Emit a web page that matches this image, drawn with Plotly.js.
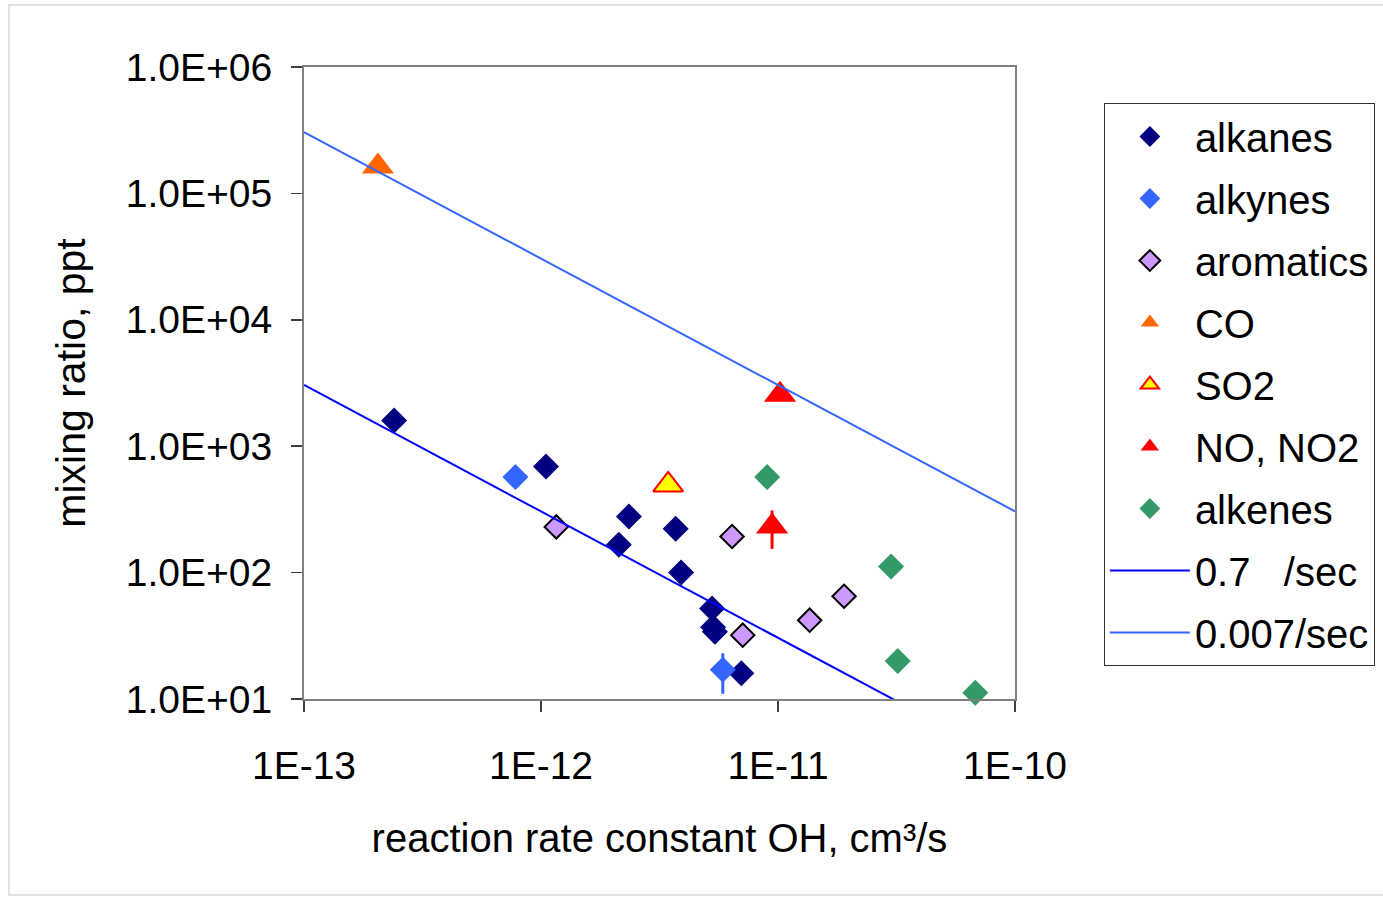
<!DOCTYPE html>
<html>
<head>
<meta charset="utf-8">
<script src="https://cdn.plot.ly/plotly-3.0.1.min.js"></script>
<style>
  html, body { margin: 0; padding: 0; background: #fff; }
  #chart { width: 1383px; height: 898px; }
</style>
</head>
<body>
<div id="chart"></div>
<script>
// ---- data (k_OH in cm3/s, mixing ratio in ppt) ----
var alkanesX = [2.4e-13, 1.05e-12, 2.35e-12, 2.13e-12, 3.7e-12, 3.9e-12, 5.27e-12, 5.32e-12, 5.42e-12, 7.0e-12];
var alkanesY = [1600, 690, 278, 166, 222, 100, 52, 37, 34, 16];

var alkynesX = [7.8e-13, 5.85e-12];
var alkynesY = [570, 17];
var alkynesErr = [0, 6];

var aromaticsX = [1.16e-12, 6.4e-12, 7.1e-12, 1.36e-11, 1.9e-11];
var aromaticsY = [230, 193, 32, 42, 65];

var coX = [2.05e-13];
var coY = [1.63e5];

var so2X = [3.44e-12];
var so2Y = [494];

var noxX = [1.02e-11, 9.44e-12];
var noxY = [2550, 232];
var noxErr = [0, 78];

var alkenesX = [9.0e-12, 3.0e-11, 3.2e-11, 6.8e-11];
var alkenesY = [570, 112, 20, 11.2];

var lineX = [1e-13, 1e-10];
var line07Y = [3050, 3.05];      // 0.7 /sec
var line0007Y = [3.05e5, 305];   // 0.007/sec

var xTickVals = [1e-13, 1e-12, 1e-11, 1e-10];
var xTickText = ['1E-13', '1E-12', '1E-11', '1E-10'];
var yTickVals = [1e1, 1e2, 1e3, 1e4, 1e5, 1e6];
var yTickText = ['1.0E+01', '1.0E+02', '1.0E+03', '1.0E+04', '1.0E+05', '1.0E+06'];

var seriesNames = ['alkanes', 'alkynes', 'aromatics', 'CO', 'SO2', 'NO, NO2', 'alkenes',
                   '0.7\u00a0\u00a0\u00a0/sec', '0.007/sec'];

// ---- styling ----
var FONT = 'Liberation Sans, Arial, sans-serif';
var diamondSize = 20;
var triSize = 28;

function sc(i, x, y, marker, extra) {
  var t = {
    type: 'scatter', mode: 'markers', name: seriesNames[i], x: x, y: y,
    marker: marker, legendgroup: 'g' + i, cliponaxis: false
  };
  if (extra) for (var k in extra) t[k] = extra[k];
  return t;
}

var traces = [
  sc(0, alkanesX, alkanesY, {symbol: 'diamond', size: diamondSize, color: '#000080', line: {width: 0}}),
  sc(1, alkynesX, alkynesY, {symbol: 'diamond', size: diamondSize, color: '#3366FF', line: {width: 0}},
     {error_y: {type: 'data', array: alkynesErr, visible: true, color: '#3366FF', thickness: 3, width: 0}}),
  sc(2, aromaticsX, aromaticsY, {symbol: 'diamond', size: diamondSize - 2, color: '#CC99FF', line: {width: 2, color: '#000000'}}),
  sc(3, coX, coY, {symbol: 'triangle-up', size: triSize, color: '#FF6600', line: {width: 0}}),
  sc(4, so2X, so2Y, {symbol: 'triangle-up', size: triSize - 2, color: '#FFFF00', line: {width: 2, color: '#FF0000'}}),
  sc(5, noxX, noxY, {symbol: 'triangle-up', size: triSize, color: '#FF0000', line: {width: 0}},
     {error_y: {type: 'data', array: noxErr, visible: true, color: '#FF0000', thickness: 3, width: 0}}),
  sc(6, alkenesX, alkenesY, {symbol: 'diamond', size: diamondSize, color: '#339966', line: {width: 0}}),
  {type: 'scatter', mode: 'lines', name: seriesNames[7], x: lineX, y: line07Y,
   line: {color: '#0000FF', width: 2}, legendgroup: 'g7'},
  {type: 'scatter', mode: 'lines', name: seriesNames[8], x: lineX, y: line0007Y,
   line: {color: '#3366FF', width: 2}, legendgroup: 'g8'}
];

var layout = {
  width: 1383, height: 898,
  margin: {l: 304, r: 368, t: 67, b: 199, pad: 0, autoexpand: false},
  paper_bgcolor: '#ffffff', plot_bgcolor: '#ffffff',
  font: {family: FONT, color: '#000000', size: 39},
  showlegend: true,
  legend: {
    x: 1.125, xanchor: 'left', y: 0.943, yanchor: 'top',
    bgcolor: '#ffffff', bordercolor: '#333333', borderwidth: 1,
    font: {family: FONT, size: 40, color: '#000000'},
    tracegroupgap: 7, itemwidth: 80
  },
  xaxis: {
    type: 'log', range: [-13, -10],
    tickvals: xTickVals, ticktext: xTickText,
    ticks: 'outside', ticklen: 11, tickwidth: 1.5, tickcolor: '#404040',
    showline: true, linecolor: '#808080', linewidth: 2, mirror: true,
    showgrid: false, zeroline: false,
    tickfont: {family: FONT, size: 39, color: '#000000'},
    ticklabelstandoff: 20,
    title: {text: 'reaction rate constant OH, cm\u00b3/s', font: {family: FONT, size: 40, color: '#000000'}, standoff: 38}
  },
  yaxis: {
    type: 'log', range: [1, 6],
    tickvals: yTickVals, ticktext: yTickText,
    ticks: 'outside', ticklen: 11, tickwidth: 1.5, tickcolor: '#404040',
    showline: true, linecolor: '#808080', linewidth: 2, mirror: true,
    showgrid: false, zeroline: false,
    tickfont: {family: FONT, size: 39, color: '#000000'},
    ticklabelstandoff: 11,
    title: {text: 'mixing ratio, ppt', font: {family: FONT, size: 41, color: '#000000'}, standoff: 27}
  },
  shapes: [
    {type: 'rect', xref: 'paper', yref: 'paper', x0: -0.415, x1: 1.6, y0: -0.31, y1: 1.098,
     line: {color: '#D9D9D9', width: 1.5}, fillcolor: 'rgba(0,0,0,0)', layer: 'below'}
  ]
};

Plotly.newPlot('chart', traces, layout, {staticPlot: true, displayModeBar: false});
</script>
</body>
</html>
